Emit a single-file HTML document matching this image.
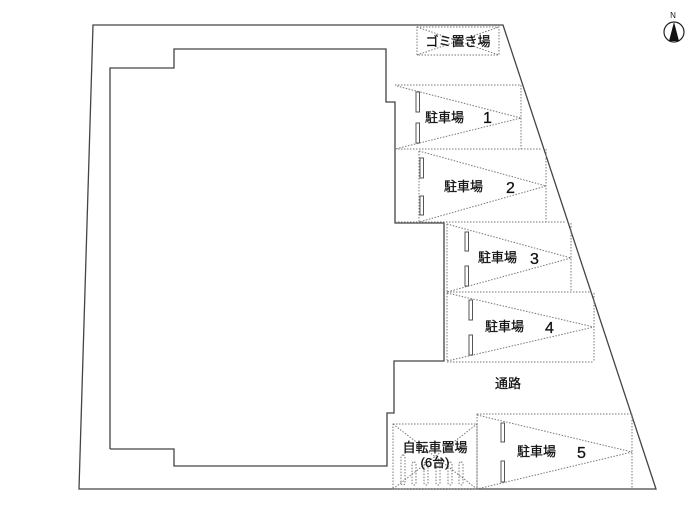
<!DOCTYPE html>
<html><head><meta charset="utf-8"><style>
html,body{margin:0;padding:0;background:#fff;}
svg{display:block;}
text{font-family:"Liberation Sans","Noto Sans CJK JP",sans-serif;fill:#111;}
</style></head><body>
<svg width="700" height="513" viewBox="0 0 700 513" xmlns="http://www.w3.org/2000/svg">
<g fill="none" stroke="#444" stroke-width="1.3">
<polygon points="93,25 503,25 656,489 79,489"/>
<polyline points="110,449 110,68 174,68 174,49 386,49 386,102 395,102 395,223 444,223 444,361 394,361 394,413 387,413 387,466 174,466 174,449 110,449"/>
</g>
<g fill="none" stroke="#777" stroke-width="1" stroke-dasharray="1.5,1.5">
<rect x="417" y="27" width="82" height="28"/>
<line x1="417" y1="27" x2="499" y2="55"/><line x1="417" y1="55" x2="499" y2="27"/>
<polyline points="395,85 521,85 521,149"/>
<line x1="395" y1="149" x2="541" y2="149"/>
<polyline points="397,86 521,118 395,149"/>
<line x1="546" y1="149" x2="546" y2="222"/>
<line x1="419" y1="151" x2="419" y2="222"/>
<line x1="395" y1="222" x2="566" y2="222"/>
<polyline points="419,151 546,186 419,222"/>
<line x1="447" y1="224" x2="447" y2="361"/>
<line x1="571" y1="223" x2="571" y2="292"/>
<line x1="447" y1="292" x2="590" y2="292"/>
<polyline points="447,224 571,258 447,292"/>
<line x1="594" y1="293" x2="594" y2="362"/>
<line x1="447" y1="362" x2="594" y2="362"/>
<polyline points="447,293 594,327 447,361"/>
<line x1="477" y1="414" x2="632" y2="414"/>
<line x1="477" y1="414" x2="477" y2="489"/>
<line x1="632" y1="414" x2="632" y2="489"/>
<polyline points="477,415 632,452 477,489"/>
<rect x="393" y="424" width="84" height="65"/>
<line x1="393" y1="424" x2="477" y2="489"/><line x1="393" y1="489" x2="477" y2="424"/>
<rect x="401" y="455" width="4" height="30" rx="2"/>
<rect x="412" y="462" width="4" height="23" rx="2"/>
<rect x="424" y="462" width="4" height="23" rx="2"/>
<rect x="436" y="462" width="4" height="23" rx="2"/>
<rect x="448" y="462" width="4" height="23" rx="2"/>
<rect x="459" y="462" width="4" height="23" rx="2"/>
</g>
<g fill="#fff" stroke="#555" stroke-width="1">
<rect x="416" y="92" width="3.5" height="20"/><rect x="416" y="123" width="3.5" height="20"/>
<rect x="420" y="158" width="3.5" height="20"/><rect x="420" y="196" width="3.5" height="19"/>
<rect x="465" y="232" width="3.5" height="19"/><rect x="465" y="266" width="3.5" height="20"/>
<rect x="469" y="300" width="3.5" height="20"/><rect x="469" y="335" width="3.5" height="20"/>
<rect x="501" y="423" width="3.5" height="19"/><rect x="501" y="461" width="3.5" height="21"/>
</g>
<g font-size="13" stroke="#111" stroke-width="0.3">
<text x="458" y="46" text-anchor="middle">ゴミ置き場</text>
<text x="425" y="122">駐車場</text><text x="483" y="123" font-size="16">1</text>
<text x="444" y="191">駐車場</text><text x="506" y="193" font-size="16">2</text>
<text x="478" y="262">駐車場</text><text x="530" y="264" font-size="16">3</text>
<text x="485" y="331">駐車場</text><text x="545" y="333" font-size="16">4</text>
<text x="508" y="388" text-anchor="middle">通路</text>
<text x="517" y="456">駐車場</text><text x="577" y="458" font-size="16">5</text>
<text x="435" y="452" text-anchor="middle">自転車置場</text>
<text x="435" y="467" text-anchor="middle">(6台)</text>
</g>
<text x="673" y="18" font-size="8" text-anchor="middle" font-family="Liberation Serif,serif">N</text>
<circle cx="674" cy="32" r="10" fill="none" stroke="#222" stroke-width="1.2"/>
<polygon points="674,22 669,41 679,41" fill="#111"/>
</svg>
</body></html>
